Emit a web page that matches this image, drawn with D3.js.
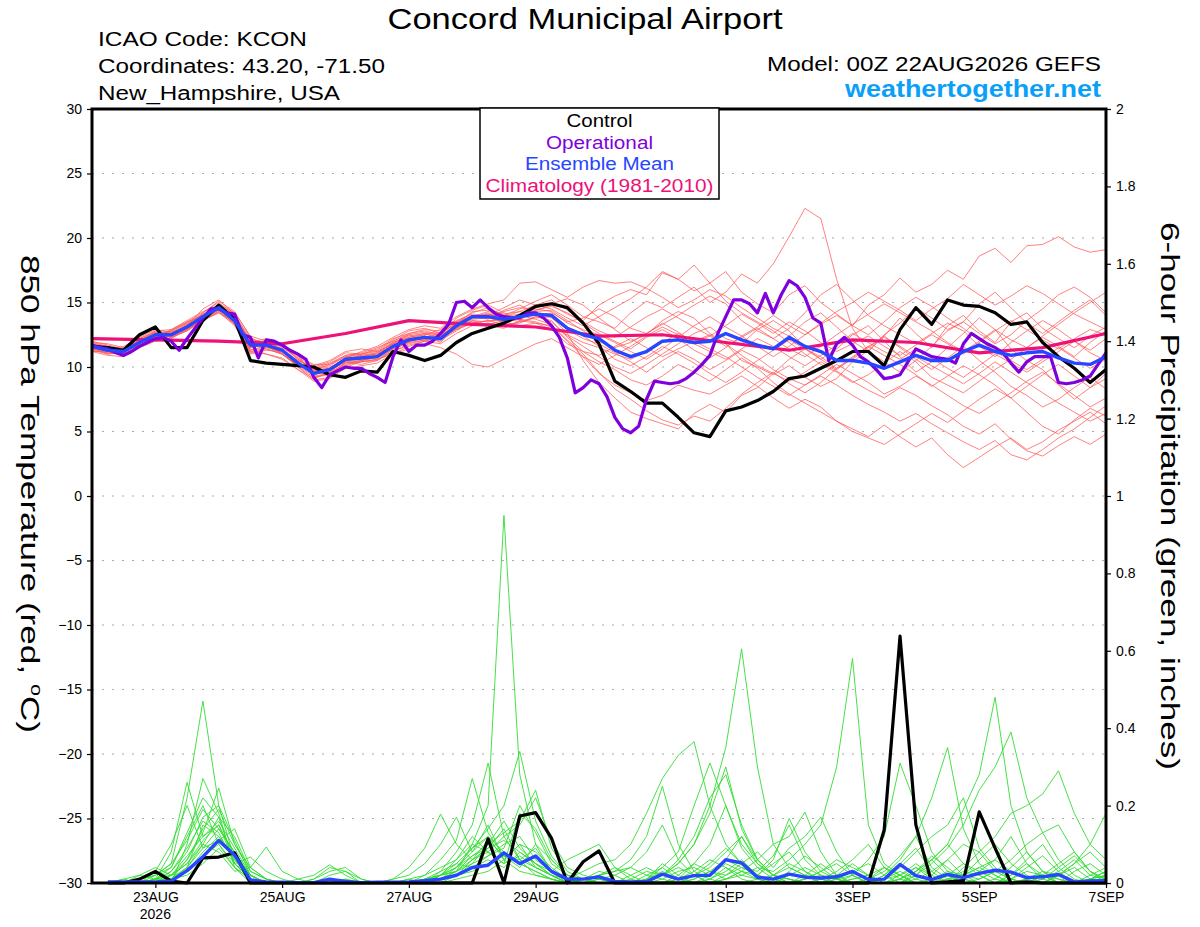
<!DOCTYPE html>
<html>
<head>
<meta charset="utf-8">
<script src="https://cdn.jsdelivr.net/npm/d3@7"></script>
<style>
  body { margin: 0; background: #fff; }
  text { font-family: "Liberation Sans", Arial, sans-serif; }
</style>
</head>
<body>
<div id="chart"></div>
<script>
// GEFS plume for KCON - 850 hPa temperature and 6-hour precipitation

// x axis ticks (00Z of each labelled day)
const tickLabels = ["23AUG", "25AUG", "27AUG", "29AUG", "1SEP", "3SEP", "5SEP", "7SEP"];
const tickDays = [1, 3, 5, 7, 10, 12, 14, 16];   // days after 00Z 22AUG
const tempTicks = [-30, -25, -20, -15, -10, -5, 0, 5, 10, 15, 20, 25, 30];
const precipTicks = [0, 0.2, 0.4, 0.6, 0.8, 1, 1.2, 1.4, 1.6, 1.8, 2];

// 6-hourly 850 hPa temperature, 00Z 22AUG .. 00Z 7SEP (65 values)
const controlTemp = [11.6,11.5,11.3,12.5,13.1,11.5,11.5,13.6,14.8,13.7,
  10.5,10.3,10.2,10.1,10.0,9.4,9.2,9.7,9.6,11.2,
  10.9,10.5,10.9,11.9,12.6,13.0,13.4,14.0,14.7,14.9,
  14.6,13.4,11.8,8.9,8.1,7.2,7.2,6.1,4.9,4.6,
  6.6,6.9,7.4,8.1,9.1,9.3,9.9,10.5,11.2,11.2,
  10.1,12.9,14.6,13.3,15.2,14.8,14.7,14.2,13.3,13.5,
  11.9,10.8,9.9,8.8,9.8];

const meanTemp = [11.6,11.3,11.2,11.9,12.5,12.5,13.1,13.9,14.6,13.6,
  11.7,11.7,11.3,10.3,9.5,9.8,10.6,10.7,10.8,11.6,
  12.1,12.3,12.2,13.2,13.9,13.9,13.7,13.9,14.1,14.0,
  13.0,12.5,12.2,11.3,10.8,11.2,12.0,12.1,11.9,12.0,
  12.6,12.1,11.7,11.4,12.3,11.6,11.2,10.5,10.5,10.3,
  9.9,10.4,10.9,10.5,10.5,11.2,11.7,11.2,10.9,11.1,
  11.2,10.7,10.3,10.2,10.8];

// operational run is 3-hourly (129 values)
const opTemp = [11.7,11.5,11.4,11.1,10.9,11.2,11.6,11.9,12.2,12.3,
  12.0,11.3,12.2,13.0,13.8,14.5,14.5,14.2,14.1,12.5,
  12.3,10.7,12.1,12.0,11.7,11.3,11.0,10.6,9.2,8.4,
  9.4,9.7,10.0,9.9,9.9,9.5,9.2,8.8,10.8,12.1,
  11.2,11.7,11.7,12.0,12.6,13.3,15.0,15.1,14.6,15.2,
  14.6,14.1,13.9,13.8,13.8,14.2,14.2,13.8,13.2,12.3,
  10.7,8.0,8.4,9.0,8.7,7.7,6.1,5.2,4.9,5.4,
  7.5,8.9,8.8,8.7,8.8,9.1,9.6,10.2,10.9,12.6,
  13.9,15.2,15.2,14.9,14.2,15.7,14.2,15.6,16.7,16.3,
  15.4,13.8,13.4,10.5,11.8,12.3,11.7,10.8,10.4,9.8,
  9.1,9.2,9.4,10.4,11.4,11.1,10.8,10.7,10.6,10.3,
  11.8,12.6,12.2,11.8,11.5,11.1,10.3,9.6,10.4,10.8,
  10.8,10.8,8.8,8.7,8.8,9.0,9.3,10.2,11.1];

// climatology, daily at 00Z (17 values)
const climTemp = [12.2,12.1,12.0,11.8,12.6,13.6,13.3,13.1,12.4,12.5,11.9,11.3,12.1,11.9,11.1,11.5,12.6];

// ensemble members, 6-hourly (20 x 65)
const memberTemps = [
  [11.8,11.5,11.0,12.2,12.8,12.9,13.5,14.2,15.0,14.0, 12.2,11.8,11.0,10.1,9.8,10.2,10.9,11.1,11.5,12.0,
   12.6,12.9,12.8,13.5,14.2,14.6,14.0,14.5,15.1,15.6, 14.8,13.9,13.5,13.0,14.2,15.1,14.6,15.4,16.2,15.0,
   15.8,17.2,16.5,18.0,20.1,22.3,21.5,16.8,13.0,11.2, 12.4,13.8,12.6,11.5,13.2,14.0,12.8,11.9,13.5,14.2, 13.0,12.2,11.5,12.4,13.1],
  [11.4,11.2,11.5,12.0,12.3,12.6,13.2,14.5,15.2,14.1, 11.2,11.5,11.8,10.9,9.2,9.5,10.3,10.5,10.9,11.8,
   12.5,12.0,12.4,13.8,14.4,14.8,14.2,13.6,14.4,14.8, 14.1,13.6,14.8,15.5,16.0,15.6,17.3,16.8,15.9,16.5,
   17.4,15.8,14.9,14.2,15.6,16.3,15.0,14.1,13.2,14.8, 15.6,16.9,15.8,16.4,17.5,16.8,18.6,19.2,18.1,19.4, 19.5,20.1,19.3,18.9,19.1],
  [11.2,10.9,10.8,11.5,12.0,12.2,12.9,13.6,14.3,13.4, 11.5,11.9,11.0,10.0,9.0,9.2,10.0,10.4,10.6,11.2,
   11.8,12.1,12.5,13.0,13.5,13.2,13.0,13.6,13.4,13.2, 12.0,10.8,9.5,8.6,8.0,7.4,7.8,8.6,8.2,7.9,
   8.6,9.3,8.5,7.6,6.8,7.5,6.9,5.8,5.2,4.6, 5.5,4.6,3.8,4.5,3.2,2.2,3.0,3.8,4.5,3.6, 4.2,5.1,5.8,6.5,5.6],
  [12.0,11.7,11.4,12.1,12.7,12.4,13.0,13.8,14.4,13.8, 12.1,11.9,11.6,10.6,9.9,10.1,10.8,10.9,11.0,11.9,
   12.3,12.6,12.1,12.8,13.6,13.5,13.9,14.3,14.0,13.5, 12.4,11.6,10.8,10.0,9.5,10.2,11.0,11.8,12.6,13.1,
   12.2,11.8,12.9,13.6,12.8,11.5,10.6,11.4,12.5,13.2, 12.0,10.8,9.6,10.4,11.5,12.6,13.8,12.9,11.4,10.5, 9.8,8.6,7.5,8.4,9.5],
  [11.5,11.0,11.3,11.7,12.4,12.8,13.4,14.0,14.8,13.5, 11.0,11.3,11.2,10.4,9.6,9.4,10.4,10.2,10.5,11.4,
   11.9,12.4,11.9,13.1,13.8,14.2,13.4,13.8,14.6,14.9, 15.3,14.8,13.8,12.9,12.0,12.5,13.6,14.3,13.8,12.6,
   11.8,10.5,10.0,9.4,10.1,9.2,8.5,9.1,10.4,11.3, 12.5,13.4,14.6,13.8,12.9,13.5,14.9,15.8,14.6,13.4, 12.6,13.5,14.4,15.2,14.0],
  [11.9,11.6,11.1,11.8,12.6,12.3,12.8,13.7,14.9,14.2, 12.4,12.0,11.4,10.5,10.0,10.4,11.1,11.0,11.3,12.1,
   12.8,13.0,12.6,13.4,14.0,13.7,14.4,14.8,14.2,13.8, 12.9,12.2,11.8,11.1,10.4,9.6,10.5,11.2,10.6,9.8,
   10.5,11.3,10.7,9.8,9.1,8.6,9.4,10.2,9.5,8.8, 7.9,8.5,9.3,8.6,7.8,7.0,6.4,7.2,8.0,8.9, 9.6,8.7,7.8,6.9,7.6],
  [11.3,11.1,11.2,11.6,12.2,12.6,13.3,14.1,14.5,13.3, 11.4,11.0,10.7,9.8,9.1,9.6,10.2,10.4,10.6,11.0,
   11.6,12.0,11.8,12.6,13.2,13.4,13.2,13.5,13.8,13.9, 12.6,10.5,8.8,7.6,6.5,6.0,5.6,5.2,6.4,7.1,
   6.5,7.8,8.4,9.5,10.6,11.4,10.8,9.9,10.6,11.5, 12.4,11.5,10.6,9.8,10.7,11.6,10.5,9.6,8.5,7.8, 6.9,7.5,8.4,9.2,8.3],
  [11.7,11.4,11.6,12.3,12.9,12.7,13.1,13.9,14.7,13.9, 11.9,12.2,11.5,10.7,10.1,10.5,11.2,11.4,11.2,11.8,
   12.2,12.5,12.9,13.6,14.1,14.0,14.6,15.2,14.8,14.5, 13.8,13.2,13.9,14.6,15.3,16.2,17.4,16.8,17.9,16.5,
   15.1,14.2,13.5,12.8,11.9,11.0,10.2,9.6,8.8,9.4, 10.3,11.2,10.4,9.2,8.6,8.0,8.9,9.8,10.6,11.5, 12.3,11.6,10.8,11.9,12.8],
  [11.4,11.3,11.4,12.0,12.6,12.4,13.0,14.2,15.1,14.3, 12.3,11.6,11.0,10.2,9.7,9.9,10.7,11.2,11.6,12.3,
   12.9,13.2,13.0,13.9,14.5,14.9,15.2,16.5,16.6,16.0, 15.4,16.2,16.7,16.5,16.6,16.1,15.4,14.6,15.2,16.0,
   15.5,14.6,13.8,13.0,12.4,13.5,14.2,13.1,12.0,11.2, 10.4,9.6,10.5,11.6,12.8,13.5,12.6,11.8,12.5,13.6, 14.5,15.6,16.2,15.4,14.2],
  [11.6,11.2,10.9,11.7,12.4,12.6,13.2,13.8,14.3,13.2, 11.1,11.4,11.0,10.1,9.3,9.5,10.1,10.5,10.7,11.3,
   12.0,12.2,12.4,13.0,13.6,13.3,13.6,14.0,13.7,13.3, 12.1,11.0,9.6,8.3,7.5,6.6,5.9,5.5,6.2,5.8,
   6.8,7.9,8.8,9.6,8.7,8.0,8.8,9.9,10.8,11.6, 10.9,10.2,9.4,8.5,9.3,10.1,9.4,8.6,7.6,6.5, 5.4,4.8,5.9,6.8,6.2],
  [11.8,11.6,11.3,12.1,12.6,12.3,12.9,13.6,14.5,13.7, 11.8,11.5,11.2,10.2,9.6,9.9,10.7,10.8,11.0,11.7,
   12.2,12.3,12.0,13.3,13.9,14.1,13.8,13.5,13.9,14.2, 13.5,13.8,14.5,13.9,13.0,12.6,13.3,14.0,14.8,15.5,
   14.9,13.6,12.8,12.2,13.0,14.2,15.6,16.4,15.2,14.0, 13.2,12.5,11.8,12.6,13.4,12.8,11.6,10.8,11.9,12.8, 13.6,12.9,12.0,11.3,12.2],
  [11.3,11.0,11.1,11.9,12.5,12.7,13.3,13.8,14.4,13.4, 11.6,11.8,11.3,10.3,9.4,9.7,10.5,10.6,10.9,11.5,
   12.0,12.3,12.6,13.0,13.7,13.8,13.5,13.2,13.4,12.9, 11.8,11.2,10.9,11.6,12.2,11.5,10.8,11.4,12.0,12.5,
   11.8,10.9,10.1,9.5,8.9,9.6,10.4,9.7,8.9,8.2, 7.6,8.4,7.8,7.0,6.3,5.4,4.8,5.6,4.4,3.5, 3.1,3.9,4.6,4.0,4.8],
  [11.7,11.3,11.2,12.0,12.4,12.8,13.5,14.0,14.6,13.6, 11.5,11.8,11.7,10.6,9.8,10.0,10.5,10.8,11.1,11.9,
   12.4,12.6,12.3,13.4,13.9,14.3,14.0,13.8,14.3,14.4, 13.6,12.8,12.0,11.5,11.9,12.6,13.4,12.7,11.9,12.4,
   13.2,14.1,13.4,12.6,13.5,12.8,11.9,11.2,11.8,12.4, 11.6,10.9,11.7,12.5,11.8,11.0,11.9,12.8,13.6,12.9, 12.1,11.4,12.2,12.9,12.5],
  [11.5,11.4,11.1,11.8,12.5,12.5,13.0,13.7,14.2,13.3, 11.3,11.6,11.1,10.0,9.2,9.4,10.3,10.4,10.5,11.2,
   11.7,12.0,12.2,12.9,13.4,13.6,13.3,13.4,13.9,13.6, 12.3,11.2,10.4,9.8,9.0,8.6,9.3,10.2,9.6,8.9,
   9.8,10.7,9.9,8.8,7.9,7.2,6.5,5.8,5.0,4.5, 4.0,4.8,5.6,6.4,5.7,6.6,7.5,8.3,7.6,8.5, 9.4,10.2,9.3,8.4,9.1],
  [11.9,11.8,11.5,12.2,12.7,12.5,13.2,13.9,14.5,13.9, 12.0,11.7,11.2,10.5,9.9,10.3,10.9,11.0,11.4,12.2,
   12.6,12.8,12.5,13.5,14.0,13.9,14.3,14.6,14.4,14.7, 14.2,13.4,12.6,12.0,11.4,12.3,12.9,12.2,11.3,10.7,
   11.5,12.4,13.1,14.0,13.2,12.5,13.4,14.3,15.0,15.8, 15.1,14.4,13.6,14.5,15.3,16.4,15.6,14.8,15.5,16.3, 15.7,14.9,14.1,13.5,12.9],
  [11.4,11.1,11.0,11.6,12.3,12.9,13.6,14.3,14.8,13.5, 11.2,11.0,10.6,9.8,8.9,9.1,9.9,10.1,10.3,11.0,
   11.4,11.8,11.5,11.0,10.2,10.0,10.6,11.2,11.8,12.2, 11.5,10.8,10.2,10.9,11.6,12.4,13.1,12.5,11.8,11.2,
   10.6,11.4,12.2,11.6,10.8,10.1,10.9,11.7,12.6,11.9, 11.2,10.6,11.4,10.7,9.9,9.2,10.1,11.0,10.3,9.6, 10.4,11.2,12.0,11.1,10.5],
  [11.6,11.5,11.3,12.0,12.8,12.6,13.1,13.9,14.8,14.1, 12.0,11.6,11.3,10.4,9.7,9.9,10.6,10.9,11.1,11.8,
   12.3,12.5,12.7,13.3,13.8,14.1,13.9,14.1,14.5,14.3, 13.4,12.9,12.5,11.9,11.2,10.6,11.4,12.3,13.2,13.9,
   13.1,12.4,11.6,10.8,11.6,12.5,13.3,14.0,13.2,12.5, 13.5,14.6,15.4,14.7,13.8,13.0,12.1,11.2,10.5,9.8, 10.6,11.5,10.7,9.9,10.6],
  [11.2,11.2,11.4,12.0,12.4,12.3,12.8,13.6,14.2,13.5, 11.7,11.4,11.0,10.2,9.5,9.7,10.4,10.5,10.8,11.4,
   11.9,12.1,12.3,12.9,13.4,13.6,13.6,13.7,13.5,13.1, 12.5,11.9,11.5,11.0,10.6,11.2,11.9,12.6,12.0,11.4,
   10.8,10.0,9.2,8.5,7.8,8.6,9.3,8.6,7.8,7.1, 6.5,5.8,6.4,5.6,4.9,4.2,3.6,4.3,3.2,2.8, 3.6,4.5,5.2,6.1,7.0],
  [11.8,11.4,11.3,11.8,12.6,12.8,13.4,14.1,14.6,13.8, 11.6,12.1,11.6,10.8,10.2,10.2,10.8,11.0,11.2,12.0,
   12.5,12.7,12.4,13.3,14.3,14.4,14.1,14.3,14.8,15.2, 14.4,13.5,12.8,12.3,13.1,13.9,14.5,13.8,13.1,12.4,
   11.6,12.3,13.0,12.2,11.4,10.8,11.6,12.5,13.3,14.1, 14.9,14.2,13.5,12.8,11.9,11.2,12.0,12.9,12.1,11.5, 12.4,13.3,14.2,15.0,15.8],
  [11.5,11.3,11.1,11.7,12.3,12.4,12.9,13.8,14.5,13.7, 11.9,11.7,11.4,10.3,9.5,9.6,10.5,10.7,10.9,11.6,
   12.1,12.4,12.1,13.1,13.9,13.8,13.6,14.0,14.2,14.1, 13.1,12.4,11.6,10.6,10.1,10.8,11.6,11.0,10.3,9.5,
   8.8,9.6,10.5,11.3,12.1,11.4,10.6,9.8,10.7,11.6, 12.3,11.6,10.8,10.1,9.4,8.7,9.5,10.4,9.6,8.8, 8.0,7.2,6.5,5.8,6.4]
];

// 6-hour precipitation, ending 06Z 22AUG .. 00Z 7SEP (64 values)
const controlPrecip = [0,0,0.01,0.03,0.005,0,0.065,0.067,0.078,0,
  0,0,0,0,0,0,0,0,0,0,
  0,0,0,0,0.114,0,0.173,0.182,0.116,0,
  0.055,0.083,0,0,0,0,0,0,0,0,
  0,0,0,0,0,0,0,0,0,0.137,
  0.638,0.15,0,0.003,0.006,0.184,0.09,0,0.003,0,
  0,0,0,0];

const meanPrecip = [0.003,0.003,0.003,0.003,0.005,0.032,0.068,0.11,0.072,0.008,
  0.003,0.002,0.001,0.001,0.01,0.004,0.001,0.002,0.002,0.003,
  0.006,0.01,0.02,0.04,0.046,0.078,0.05,0.07,0.03,0.01,
  0.01,0.016,0.004,0.003,0.004,0.023,0.01,0.019,0.02,0.06,
  0.052,0.015,0.01,0.023,0.015,0.013,0.016,0.03,0.009,0.01,
  0.048,0.019,0.009,0.022,0.014,0.025,0.033,0.028,0.014,0.016,
  0.022,0.003,0.005,0.006];

const memberPrecip = [
  [0,0,0.01,0.02,0.05,0.22,0.47,0.2, 0.06,0.01,0,0,0,0,0.01,0, 0,0,0,0,0.01,0.02,0.04,0.08, 0.12,0.06,0.1,0.04,0.02,0,0,0.01,
   0,0,0,0.02,0.05,0.1,0.2,0.35, 0.605,0.3,0.1,0.04,0.02,0,0,0.01, 0.02,0,0,0.03,0.06,0.02,0,0, 0.01,0.04,0.08,0.03,0,0,0.01,0],
  [0,0,0,0.01,0.08,0.26,0.12,0.15, 0.05,0.02,0,0,0,0,0,0.01, 0,0,0.01,0.02,0.05,0.1,0.17,0.08, 0.15,0.06,0.03,0.02,0.01,0,0,0,
   0,0.01,0.03,0.02,0.06,0.12,0.22,0.28, 0.15,0.06,0.02,0.01,0,0,0.02,0.05, 0.02,0,0.01,0.04,0.01,0,0.02,0.06, 0.1,0.05,0.02,0,0,0.03,0.05,0.02],
  [0,0,0.02,0.01,0,0.1,0.27,0.18, 0.04,0,0,0,0,0,0,0, 0,0,0,0,0.01,0.01,0.03,0.1, 0.2,0.95,0.28,0.1,0.03,0.01,0,0,
   0,0,0,0,0.01,0.02,0.04,0.08, 0.12,0.05,0.02,0,0,0.01,0.03,0.06, 0.1,0.04,0.01,0,0,0,0.01,0.03, 0.06,0.12,0.05,0.01,0,0,0,0.02],
  [0,0.01,0,0,0.02,0.06,0.13,0.245, 0.1,0.03,0.01,0,0,0,0,0, 0,0,0,0.01,0,0.02,0.06,0.12, 0.08,0.05,0.18,0.14,0.06,0.02,0.01,0,
   0,0,0.02,0.04,0.01,0.05,0.1,0.2, 0.09,0.04,0.01,0,0.02,0.05,0.02,0, 0,0.02,0.05,0.09,0.03,0,0,0.01, 0.03,0.01,0,0.02,0.05,0.08,0.03,0],
  [0,0,0,0.03,0.1,0.2,0.09,0.11, 0.14,0.04,0.01,0,0,0,0,0, 0,0,0,0,0.02,0.06,0.11,0.27, 0.13,0.07,0.05,0.03,0.01,0,0,0.02,
   0.04,0.02,0,0,0,0.01,0.03,0.06, 0.04,0.02,0.05,0.08,0.03,0,0,0, 0.01,0.03,0.07,0.12,0.04,0.01,0,0, 0,0.02,0.06,0.1,0.04,0.01,0,0.01],
  [0,0,0,0,0.03,0.08,0.17,0.2, 0.11,0.02,0,0,0,0.01,0.03,0.04, 0.01,0,0,0,0,0.01,0.02,0.05, 0.1,0.16,0.09,0.05,0.02,0,0,0,
   0,0,0,0.01,0.03,0.04,0.02,0.06, 0.12,0.06,0.02,0,0,0,0.01,0.02, 0,0,0,0.02,0.06,0.1,0.05,0.02, 0,0,0.01,0.03,0.02,0,0,0],
  [0,0,0.01,0.03,0.01,0.04,0.15,0.12, 0.07,0.02,0,0,0,0,0,0, 0,0,0,0,0,0.03,0.08,0.15, 0.31,0.12,0.06,0.09,0.03,0.01,0,0,
   0,0,0.01,0.05,0.02,0,0.01,0.04, 0.02,0.01,0,0.03,0.07,0.04,0.01,0, 0,0,0.02,0.05,0.02,0,0.04,0.08, 0.03,0.01,0,0,0.02,0.04,0.01,0],
  [0,0,0,0.01,0.04,0.13,0.22,0.17, 0.05,0.01,0,0,0,0,0.02,0.03, 0,0,0,0,0.01,0.02,0.05,0.04, 0.07,0.1,0.12,0.06,0.03,0,0.01,0.03,
   0.02,0,0,0,0,0.02,0.05,0.09, 0.05,0.02,0.06,0.167,0.08,0.03,0.01,0, 0,0.01,0.03,0.01,0,0,0.02,0.04, 0.02,0,0,0.01,0.03,0.06,0.02,0.01],
  [0,0,0,0,0.02,0.05,0.1,0.17, 0.12,0.03,0.01,0,0,0,0,0.01, 0,0,0.01,0.04,0.09,0.178,0.1,0.06, 0.09,0.14,0.06,0.02,0.01,0,0,0,
   0,0,0,0,0,0.01,0.03,0.02, 0.04,0.03,0.07,0.15,0.06,0.02,0,0, 0.01,0.04,0.02,0,0,0.02,0.05,0.03, 0.01,0,0,0.02,0.01,0,0.02,0.04],
  [0,0,0,0.02,0.05,0.11,0.19,0.14, 0.08,0.01,0,0,0,0,0,0, 0,0,0,0,0,0.01,0.04,0.09, 0.14,0.2,0.34,0.16,0.07,0.02,0.01,0,
   0,0,0,0,0.02,0.05,0.03,0.01, 0.03,0.06,0.1,0.12,0.183,0.08,0.02,0, 0,0,0.01,0.03,0.07,0.04,0.01,0, 0,0.02,0.05,0.02,0,0,0,0.01],
  [0,0,0,0,0.01,0.06,0.14,0.19, 0.1,0.04,0.01,0,0,0,0,0, 0,0,0,0,0.01,0.02,0.03,0.07, 0.1,0.13,0.16,0.24,0.09,0.03,0.01,0,
   0,0,0.01,0.03,0.01,0,0,0.02, 0.05,0.08,0.04,0.09,0.12,0.17,0.08,0.02, 0,0,0,0.01,0.03,0.06,0.02,0, 0,0.01,0.04,0.07,0.03,0,0.01,0.03],
  [0,0,0,0.01,0.02,0.07,0.12,0.16, 0.09,0.02,0,0,0,0,0,0, 0,0,0,0.01,0.02,0.04,0.06,0.1, 0.08,0.12,0.15,0.22,0.11,0.04,0.02,0.01,
   0,0,0,0.02,0.04,0.02,0,0.01, 0.02,0.04,0.03,0.06,0.1,0.15,0.3,0.58, 0.15,0.05,0.02,0,0,0.01,0.03,0.02, 0,0,0.01,0.02,0,0,0.01,0.02],
  [0,0.01,0.02,0.04,0.02,0.03,0.08,0.12, 0.06,0.01,0,0,0,0,0,0, 0,0,0,0,0,0.01,0.03,0.05, 0.07,0.09,0.2,0.13,0.05,0.02,0,0,
   0,0,0,0,0.01,0.03,0.06,0.04, 0.01,0,0.02,0.05,0.03,0.01,0,0.02, 0.06,0.12,0.31,0.2,0.08,0.03,0.01,0, 0,0.01,0.03,0.02,0,0,0.01,0.03],
  [0,0,0,0.01,0.03,0.09,0.16,0.13, 0.05,0.067,0.03,0.01,0,0,0,0, 0,0,0,0,0,0.01,0.02,0.04, 0.06,0.04,0.08,0.05,0.03,0.06,0.08,0.1,
   0.04,0.01,0,0,0,0,0.01,0.03, 0.06,0.02,0,0,0.01,0.03,0.05,0.02, 0,0.02,0.06,0.12,0.22,0.35,0.14,0.05, 0.02,0,0,0.01,0.04,0.07,0.03,0.01],
  [0,0,0,0,0.01,0.04,0.1,0.08, 0.03,0.04,0.093,0.03,0.01,0,0,0, 0,0,0,0,0,0,0.02,0.06, 0.11,0.07,0.04,0.1,0.06,0.02,0.01,0.02,
   0.03,0.04,0.02,0.01,0,0,0.02,0.05, 0.03,0.01,0,0.02,0.04,0.02,0.01,0, 0,0.01,0.04,0.08,0.12,0.15,0.22,0.09, 0.04,0.01,0,0,0.02,0.05,0.08,0.04],
  [0,0,0.01,0.02,0.04,0.12,0.2,0.1, 0.04,0.01,0,0,0.01,0.02,0.047,0.02, 0,0,0,0,0.01,0.03,0.05,0.09, 0.12,0.08,0.05,0.03,0.01,0,0.01,0.02,
   0.03,0.06,0.12,0.25,0.1,0.03,0.01,0, 0,0.01,0.02,0.04,0.02,0.01,0,0, 0,0,0.01,0.03,0.06,0.1,0.19,0.28, 0.48,0.2,0.08,0.03,0.01,0,0.01,0.02],
  [0,0,0,0.01,0.02,0.05,0.11,0.15, 0.07,0.02,0,0,0,0.01,0.04,0.03, 0.01,0,0,0,0,0.02,0.04,0.07, 0.09,0.11,0.08,0.05,0.02,0,0,0.01,
   0.02,0.04,0.08,0.15,0.06,0.02,0,0.01, 0.03,0.02,0.01,0,0.01,0.03,0.06,0.04, 0.02,0,0,0.02,0.05,0.09,0.15,0.24, 0.3,0.39,0.22,0.13,0.06,0.02,0,0.01],
  [0,0,0,0,0.01,0.03,0.07,0.1, 0.05,0.01,0,0,0,0,0,0, 0,0,0,0,0,0.01,0.02,0.03, 0.05,0.07,0.06,0.04,0.02,0.01,0.03,0.05,
   0.06,0.1,0.18,0.27,0.33,0.365,0.2,0.1, 0.05,0.02,0,0,0.01,0.02,0.01,0, 0,0.01,0.02,0.04,0.02,0.06,0.1,0.08, 0.12,0.18,0.2,0.23,0.29,0.18,0.1,0.06],
  [0,0,0,0.01,0.01,0.02,0.05,0.09, 0.04,0.01,0,0,0,0,0,0, 0,0,0,0,0,0,0.01,0.02, 0.03,0.06,0.1,0.08,0.04,0.01,0,0,
   0,0,0.01,0.04,0.08,0.2,0.31,0.2, 0.1,0.05,0.02,0.01,0,0,0.01,0.03, 0.05,0.02,0,0,0.01,0.03,0.02,0.01, 0.03,0.06,0.1,0.13,0.15,0.08,0.03,0.01],
  [0,0,0,0,0.01,0.04,0.09,0.14, 0.08,0.02,0,0,0,0,0,0, 0,0,0,0,0,0.02,0.03,0.06, 0.08,0.05,0.07,0.04,0.02,0,0,0,
   0,0.02,0.04,0.02,0.05,0.1,0.18,0.3, 0.14,0.06,0.02,0.01,0,0,0,0.01, 0.02,0.04,0.02,0,0,0.01,0.02,0.04, 0.06,0.03,0.01,0,0.02,0.05,0.1,0.18]
];

// Chart layout
const W = 1200, H = 927;
const plot = { left: 92, right: 1106, top: 109, bottom: 883 };
const start = Date.UTC(2026, 7, 22);
const hour = 3600 * 1000;

const svg = d3.select("#chart")
  .append("svg")
  .attr("width", W)
  .attr("height", H);

const x = d3.scaleUtc()
  .domain([new Date(start), new Date(start + 384 * hour)])
  .range([plot.left, plot.right]);
const yT = d3.scaleLinear().domain([-30, 30]).range([plot.bottom, plot.top]);
const yP = d3.scaleLinear().domain([0, 2]).range([plot.bottom, plot.top]);

// helpers: value index -> time
const t6 = i => new Date(start + i * 6 * hour);
const t3 = i => new Date(start + i * 3 * hour);
const tP = i => new Date(start + (i + 1) * 6 * hour);
const t24 = i => new Date(start + i * 24 * hour);

const line6 = d3.line().x((d, i) => x(t6(i))).y(d => yT(d));
const line3 = d3.line().x((d, i) => x(t3(i))).y(d => yT(d));
const lineClim = d3.line().x((d, i) => x(t24(i))).y(d => yT(d));
const lineP = d3.line().x((d, i) => x(tP(i))).y(d => yP(d));

// the source font is much wider than Arial, so stretch text to its width
function fit(sel, len) {
  sel.attr("textLength", len).attr("lengthAdjust", "spacingAndGlyphs");
  return sel;
}

// dotted grid at each temperature tick
svg.append("g")
  .selectAll("line")
  .data(tempTicks.filter(d => d > -30 && d < 30))
  .enter().append("line")
  .attr("x1", plot.left).attr("x2", plot.right)
  .attr("y1", d => yT(d)).attr("y2", d => yT(d))
  .attr("stroke", "#aaa")
  .attr("stroke-width", 1.2)
  .attr("stroke-dasharray", "2,8");

const marks = svg.append("g")
  .attr("fill", "none")
  .attr("stroke-linejoin", "round");

// ensemble members
marks.selectAll(".mem-t")
  .data(memberTemps)
  .enter().append("path")
  .attr("d", line6)
  .attr("stroke", "#ff5a5a")
  .attr("stroke-opacity", 0.85)
  .attr("stroke-width", 0.9);

marks.selectAll(".mem-p")
  .data(memberPrecip)
  .enter().append("path")
  .attr("d", lineP)
  .attr("stroke", "#33dd33")
  .attr("stroke-width", 0.9);

// climatology, control, operational, mean
marks.append("path").attr("d", lineClim(climTemp))
  .attr("stroke", "#ee1177").attr("stroke-width", 3.2);
marks.append("path").attr("d", line6(controlTemp))
  .attr("stroke", "#000").attr("stroke-width", 3.2);
marks.append("path").attr("d", line3(opTemp))
  .attr("stroke", "#8000dd").attr("stroke-width", 3.2);
marks.append("path").attr("d", line6(meanTemp))
  .attr("stroke", "#2646ff").attr("stroke-width", 3.4);

marks.append("path").attr("d", lineP(controlPrecip))
  .attr("stroke", "#000").attr("stroke-width", 3.2);
marks.append("path").attr("d", lineP(meanPrecip))
  .attr("stroke", "#2646ff").attr("stroke-width", 3.4);

// Axes
const fs = "14px";

const leftAxis = svg.append("g")
  .attr("transform", "translate(" + plot.left + ",0)")
  .call(d3.axisLeft(yT).tickValues(tempTicks).tickSize(5).tickPadding(5));

const rightAxis = svg.append("g")
  .attr("transform", "translate(" + plot.right + ",0)")
  .call(d3.axisRight(yP).tickValues(precipTicks).tickSize(5).tickPadding(5)
    .tickFormat(d3.format("~g")));

const bottomAxis = svg.append("g")
  .attr("transform", "translate(0," + plot.bottom + ")")
  .call(d3.axisBottom(x)
    .tickValues(tickDays.map(d => new Date(start + d * 24 * hour)))
    .tickSize(5).tickPadding(4)
    .tickFormat((d, i) => tickLabels[i]));

[leftAxis, rightAxis, bottomAxis].forEach(g => {
  g.select(".domain").remove();
  g.selectAll("text").style("font-size", fs).attr("fill", "#000");
  g.selectAll(".tick line").attr("stroke", "#000").attr("stroke-width", 1.2);
});

svg.append("text")
  .attr("x", x(new Date(start + 24 * hour)))
  .attr("y", 919)
  .attr("text-anchor", "middle")
  .style("font-size", fs)
  .text("2026");

// frame
svg.append("rect")
  .attr("x", plot.left).attr("y", plot.top)
  .attr("width", plot.right - plot.left)
  .attr("height", plot.bottom - plot.top)
  .attr("fill", "none")
  .attr("stroke", "#000")
  .attr("stroke-width", 3);

// Legend box
const legendItems = [
  { label: "Control", color: "#000", w: 66 },
  { label: "Operational", color: "#8000dd", w: 107 },
  { label: "Ensemble Mean", color: "#2646ff", w: 149 },
  { label: "Climatology (1981-2010)", color: "#ee1177", w: 228 }
];
svg.append("rect")
  .attr("x", 480).attr("y", 108)
  .attr("width", 239).attr("height", 91)
  .attr("fill", "#fff")
  .attr("stroke", "#000")
  .attr("stroke-width", 1.5);
svg.selectAll(".legend")
  .data(legendItems)
  .enter().append("text")
  .attr("x", 599.5)
  .attr("y", (d, i) => 127 + i * 21.7)
  .attr("text-anchor", "middle")
  .attr("fill", d => d.color)
  .attr("textLength", d => d.w)
  .attr("lengthAdjust", "spacingAndGlyphs")
  .style("font-size", "17.5px")
  .text(d => d.label);

// Titles and header
fit(svg.append("text")
  .attr("x", 585).attr("y", 29)
  .attr("text-anchor", "middle")
  .style("font-size", "29px")
  .text("Concord Municipal Airport"), 395);

const headerLines = ["ICAO Code: KCON", "Coordinates: 43.20, -71.50", "New_Hampshire, USA"];
const headerWidths = [209, 287, 242];
headerLines.forEach((t, i) => {
  fit(svg.append("text")
    .attr("x", 98).attr("y", 46 + i * 27)
    .style("font-size", "20px")
    .text(t), headerWidths[i]);
});

fit(svg.append("text")
  .attr("x", 1101).attr("y", 71)
  .attr("text-anchor", "end")
  .style("font-size", "20px")
  .text("Model: 00Z 22AUG2026 GEFS"), 334);

fit(svg.append("text")
  .attr("x", 1101).attr("y", 97)
  .attr("text-anchor", "end")
  .attr("fill", "#0aa0f8")
  .style("font-size", "24px")
  .style("font-weight", "bold")
  .text("weathertogether.net"), 256);

// axis titles (rotated clockwise)
const leftTitle = fit(svg.append("text")
  .attr("transform", "translate(21,494) rotate(90)")
  .attr("text-anchor", "middle")
  .style("font-size", "26px"), 478);
leftTitle.append("tspan").text("850 hPa Temperature (red, ");
leftTitle.append("tspan").attr("dy", -10).style("font-size", "16px").text("o");
leftTitle.append("tspan").attr("dy", 10).text("C)");

fit(svg.append("text")
  .attr("transform", "translate(1161,496) rotate(90)")
  .attr("text-anchor", "middle")
  .style("font-size", "26px")
  .text("6-hour Precipitation (green, inches)"), 548);
</script>
</body>
</html>
